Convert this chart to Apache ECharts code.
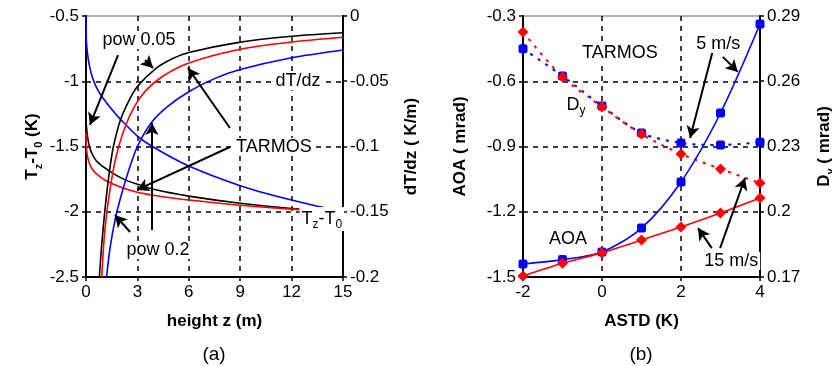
<!DOCTYPE html>
<html>
<head>
<meta charset="utf-8">
<script src="https://cdn.jsdelivr.net/npm/echarts@6/dist/echarts.min.js"></script>
<style>
  html, body { margin: 0; padding: 0; background: #fff; }
  #chart { width: 832px; height: 366px; }
</style>
</head>
<body>
<div id="chart"></div>
<script>
// ---- panel (a): [height z (m), value] ----
// Tz - T0 (K), left axis
const pow005Temp = [[0, -1.30], [0.05, -1.38], [0.15, -1.47], [0.3, -1.54], [0.6, -1.61], [1, -1.655], [1.5, -1.70], [2.2, -1.75], [3, -1.79], [4, -1.83], [6, -1.88], [9, -1.935], [12, -1.975], [15, -2.0]]
const tarmosTemp = [[0, -1.39], [0.02, -1.50], [0.08, -1.57], [0.2, -1.63], [0.4, -1.68], [0.7, -1.72], [1.2, -1.765], [2, -1.81], [3, -1.85], [4.5, -1.885], [6, -1.91], [9, -1.95], [12, -1.98], [15, -2.0]]
const pow02Temp = [[0, -0.5], [0.02, -0.68], [0.08, -0.78], [0.2, -0.88], [0.4, -0.98], [0.7, -1.07], [1, -1.13], [1.5, -1.215], [2, -1.29], [3, -1.42], [4, -1.51], [6, -1.65], [9, -1.80], [12, -1.91], [15, -2.0]]
// dT/dz (K/m), right axis
const pow005Grad = [[0.78, -0.2], [0.9, -0.178], [1.05, -0.156], [1.2, -0.137], [1.4, -0.116], [1.6, -0.100], [2, -0.080], [2.5, -0.065], [3, -0.054], [4, -0.041], [5, -0.033], [6, -0.028], [9, -0.020], [12, -0.0155], [15, -0.0128]]
const tarmosGrad = [[0.92, -0.2], [1.05, -0.172], [1.2, -0.152], [1.4, -0.133], [1.7, -0.111], [2.2, -0.088], [2.8, -0.070], [3.5, -0.057], [4.5, -0.046], [6, -0.036], [9, -0.0255], [12, -0.020], [15, -0.0163]]
const pow02Grad = [[1.2, -0.2], [1.4, -0.178], [1.7, -0.156], [2, -0.140], [2.5, -0.118], [3, -0.100], [3.8, -0.082], [4.7, -0.070], [6, -0.058], [7.5, -0.048], [9, -0.041], [12, -0.032], [15, -0.026]]

// ---- panel (b) ----
const astd = [-2, -1, 0, 1, 2, 3, 4]
const aoa5 = [-1.44, -1.42, -1.385, -1.275, -1.063, -0.746, -0.337]
const aoa15 = [-1.495, -1.437, -1.388, -1.33, -1.27, -1.206, -1.137]
const dy5 = [0.275, 0.2624, 0.2486, 0.2362, 0.2316, 0.2307, 0.232]
const dy15 = [0.2826, 0.262, 0.2482, 0.2357, 0.2266, 0.2197, 0.2132]
const dyTicks = [0.17, 0.2, 0.23, 0.26, 0.29]

// ---- annotations (data coordinates of the left axis) ----
const notesA = [
  ['pow 0.05', 3.09, -0.684],
  ['TARMOS', 10.97, -1.504],
  ['pow 0.2', 4.2, -2.293],
  ['dT/dz', 12.37, -1.0],
  ['{n|T}{s|z}{n|-T}{s|0}', 13.77, -2.055]
]
const arrowsA = [
  [1.87, -0.80, 0.23, -1.335],
  [3.44, -0.837, 3.91, -0.898],
  [8.40, -1.358, 5.95, -0.898],
  [8.40, -1.504, 2.98, -1.833],
  [2.57, -2.155, 1.69, -2.025],
  [3.85, -2.14, 3.85, -1.32]
]
const notesB = [
  ['TARMOS', 0.456, -0.47],
  ['{n|D}{s|y}', -0.66, -0.709],
  ['AOA', -0.86, -1.325],
  ['5 m/s', 2.94, -0.429],
  ['15 m/s', 3.27, -1.426]
]
const arrowsB = [
  [2.81, -0.456, 2.23, -0.861],
  [3.06, -0.488, 3.44, -0.557],
  [2.99, -1.367, 3.62, -1.045],
  [2.78, -1.367, 2.43, -1.275]
]

const FONT = "'Liberation Sans', Arial, sans-serif"
const subRich = (size, weight) => ({
  n: { fontSize: size, fontWeight: weight, fontFamily: FONT, color: '#000', lineHeight: size + 6 },
  s: { fontSize: Math.round(size * 0.65), fontWeight: weight, fontFamily: FONT, color: '#000', verticalAlign: 'bottom', lineHeight: Math.round(size * 0.65) }
})

const axisBase = (extra) => Object.assign({
  type: 'value',
  axisLine: { show: true, onZero: false, lineStyle: { color: '#000', width: 2 } },
  axisTick: { show: true, length: 4, lineStyle: { color: '#000', width: 1.5 } },
  axisLabel: { color: '#000', fontSize: 17, fontFamily: FONT, margin: 7 },
  splitLine: { show: false },
  nameLocation: 'middle',
  nameTextStyle: { color: '#000', fontSize: 17, fontWeight: 'bold', fontFamily: FONT }
}, extra)

const dashed = { show: true, showMinLine: false, showMaxLine: false, lineStyle: { color: '#000', type: [5, 5], width: 1.5 } }

const lineSeries = (data, color, yAxisIndex) => ({
  type: 'line', xAxisIndex: 0, yAxisIndex: yAxisIndex, data: data,
  smooth: 0.3, symbol: 'none',
  lineStyle: { color: color, width: 1.6 }, silent: true
})

const notesMark = (notes) => ({
  silent: true, symbol: 'rect', symbolSize: 0,
  itemStyle: { color: 'transparent' },
  label: {
    show: true, position: 'inside', color: '#000', fontSize: 18, fontFamily: FONT,
    backgroundColor: '#fff', padding: [0, 2], rich: subRich(18, 'normal')
  },
  data: notes.map(n => ({ coord: [n[1], n[2]], value: 0, label: { formatter: n[0] } }))
})

const arrowsMark = (arrows) => ({
  silent: true, symbol: ['none', 'arrow'], symbolSize: [10, 12], precision: 4,
  lineStyle: { color: '#000', width: 2, type: 'solid' },
  label: { show: false },
  data: arrows.map(a => [{ coord: [a[0], a[1]] }, { coord: [a[2], a[3]] }])
})

const zip = (xs, ys) => xs.map((x, i) => [x, ys[i]])

const chart = echarts.init(document.getElementById('chart'))

const option = {
  animation: false,
  grid: [
    { left: 86, top: 16, width: 257, height: 261, show: true, borderColor: '#999', borderWidth: 1.5, containLabel: false, outerBoundsMode: 'none' },
    { left: 523, top: 16, width: 237, height: 261, show: true, borderColor: '#999', borderWidth: 1.5, containLabel: false, outerBoundsMode: 'none' }
  ],
  xAxis: [
    axisBase({ gridIndex: 0, min: 0, max: 15, interval: 3, splitLine: dashed, name: 'height z (m)', nameGap: 36 }),
    axisBase({ gridIndex: 1, min: -2, max: 4, interval: 2, splitLine: dashed, name: 'ASTD (K)', nameGap: 36 })
  ],
  yAxis: [
    axisBase({
      gridIndex: 0, min: -2.5, max: -0.5, interval: 0.5, position: 'left', splitLine: dashed,
      name: '{n|T}{s|z}{n|-T}{s|0}{n| (K)}', nameGap: 42, nameRotate: 90,
      nameTextStyle: { rich: subRich(17, 'bold') }
    }),
    axisBase({
      gridIndex: 0, min: -0.2, max: 0, interval: 0.05, position: 'right',
      name: 'dT/dz ( K/m)', nameGap: 60, nameRotate: 90
    }),
    axisBase({
      gridIndex: 1, min: -1.5, max: -0.3, interval: 0.3, position: 'left', splitLine: dashed,
      name: 'AOA ( mrad)', nameGap: 54, nameRotate: 90
    }),
    axisBase({
      gridIndex: 1, min: 0.17, max: 0.29, position: 'right',
      axisLabel: { color: '#000', fontSize: 17, fontFamily: FONT, margin: 7, customValues: dyTicks },
      axisTick: { show: true, length: 4, lineStyle: { color: '#000', width: 1.5 }, customValues: dyTicks },
      name: '{n|D}{s|y}{n| ( mrad)}', nameGap: 53, nameRotate: 90,
      nameTextStyle: { rich: subRich(17, 'bold') }
    })
  ],
  graphic: [
    { type: 'text', x: 214, y: 355, style: { text: '(a)', font: '19px ' + FONT, fill: '#000', textAlign: 'center', textVerticalAlign: 'middle' } },
    { type: 'text', x: 641, y: 355, style: { text: '(b)', font: '19px ' + FONT, fill: '#000', textAlign: 'center', textVerticalAlign: 'middle' } }
  ],
  series: [
    Object.assign(lineSeries(pow005Temp, '#000', 0), { markLine: arrowsMark(arrowsA), markPoint: notesMark(notesA) }),
    lineSeries(tarmosTemp, '#ff0000', 0),
    lineSeries(pow02Temp, '#0000ff', 0),
    lineSeries(pow005Grad, '#000', 1),
    lineSeries(tarmosGrad, '#ff0000', 1),
    lineSeries(pow02Grad, '#0000ff', 1),
    {
      type: 'line', xAxisIndex: 1, yAxisIndex: 3, data: zip(astd, dy5), smooth: 0.3,
      symbol: 'roundRect', symbolSize: 9, itemStyle: { color: '#0000ff' },
      lineStyle: { color: '#0000ff', width: 2, type: [3, 6] }, silent: true
    },
    {
      type: 'line', xAxisIndex: 1, yAxisIndex: 3, data: zip(astd, dy15), smooth: 0.3,
      symbol: 'diamond', symbolSize: 11, itemStyle: { color: '#ff0000' },
      lineStyle: { color: '#ff0000', width: 2, type: [3, 6] }, silent: true
    },
    {
      type: 'line', xAxisIndex: 1, yAxisIndex: 2, data: zip(astd, aoa5), smooth: 0.3,
      symbol: 'roundRect', symbolSize: 9, itemStyle: { color: '#0000ff' },
      lineStyle: { color: '#0000ff', width: 1.6 }, silent: true,
      markLine: arrowsMark(arrowsB), markPoint: notesMark(notesB)
    },
    {
      type: 'line', xAxisIndex: 1, yAxisIndex: 2, data: zip(astd, aoa15), smooth: 0.3,
      symbol: 'diamond', symbolSize: 11, itemStyle: { color: '#ff0000' },
      lineStyle: { color: '#ff0000', width: 1.6 }, silent: true
    }
  ]
}

chart.setOption(option)
</script>
</body>
</html>
